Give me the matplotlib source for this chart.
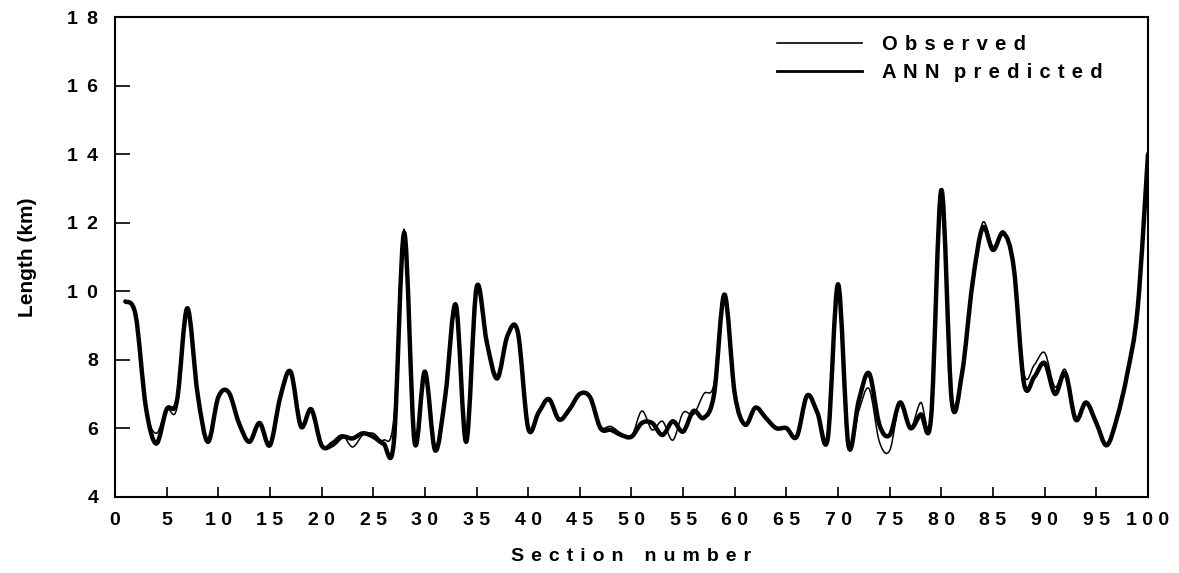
import matplotlib
matplotlib.use("Agg")
import matplotlib.pyplot as plt
from matplotlib.path import Path
from matplotlib.patches import PathPatch
from matplotlib.lines import Line2D
import numpy as np

# Section lengths (km) for sections 1..100
sections = list(range(1, 101))

observed = [
    9.70, 9.30, 6.60, 5.85, 6.55, 6.60, 9.50, 7.00, 5.60, 6.90,
    7.05, 6.15, 5.60, 6.15, 5.50, 6.90, 7.65, 6.05, 6.55, 5.50,
    5.60, 5.80, 5.45, 5.80, 5.85, 5.65, 6.30, 11.80, 5.60, 7.65,
    5.35, 7.00, 9.60, 5.60, 10.10, 8.60, 7.55, 8.70, 8.80, 6.00,
    6.45, 6.85, 6.25, 6.55, 7.00, 6.90, 6.05, 6.05, 5.85, 5.75,
    6.50, 5.95, 6.20, 5.65, 6.45, 6.40, 7.00, 7.30, 9.90, 7.00,
    6.10, 6.60, 6.30, 6.00, 6.00, 5.75, 6.95, 6.45, 5.70, 10.20,
    5.50, 6.50, 7.15, 5.60, 5.35, 6.75, 6.00, 6.75, 6.30, 12.95,
    6.80, 7.60, 10.20, 12.00, 11.30, 11.75, 10.80, 7.60, 7.85, 8.20,
    7.20, 7.70, 6.25, 6.75, 6.15, 5.50, 6.30, 7.60, 9.50, 14.00,
]

predicted = [
    9.70, 9.30, 6.60, 5.55, 6.55, 6.80, 9.50, 7.00, 5.60, 6.90,
    7.05, 6.15, 5.60, 6.15, 5.50, 6.90, 7.65, 6.05, 6.55, 5.50,
    5.50, 5.75, 5.70, 5.85, 5.75, 5.55, 5.60, 11.70, 5.60, 7.65,
    5.35, 7.00, 9.60, 5.60, 10.10, 8.50, 7.45, 8.70, 8.80, 6.00,
    6.45, 6.85, 6.25, 6.55, 7.00, 6.90, 6.00, 5.95, 5.80, 5.75,
    6.15, 6.15, 5.80, 6.20, 5.90, 6.50, 6.30, 7.00, 9.90, 7.00,
    6.10, 6.60, 6.30, 6.00, 6.00, 5.75, 6.95, 6.45, 5.70, 10.20,
    5.50, 6.80, 7.60, 6.10, 5.80, 6.75, 6.00, 6.40, 6.30, 12.95,
    6.80, 7.60, 10.20, 11.85, 11.20, 11.70, 10.70, 7.30, 7.50, 7.90,
    7.00, 7.60, 6.25, 6.75, 6.15, 5.50, 6.30, 7.60, 9.50, 14.00,
]

x_ticks = list(range(0, 101, 5))
y_ticks = list(range(4, 19, 2))
series_labels = ["Observed", "ANN predicted"]
x_title = "Section number"
y_title = "Length (km)"

plt.rcParams["font.family"] = ["Liberation Sans", "DejaVu Sans"]
plt.rcParams["font.weight"] = "bold"


def spaced(s, gap=" \u200a", word_gaps=3):
    """Letter-spaced text, as in the typeset axis labels."""
    return (gap * word_gaps).join(gap.join(w) for w in s.split(" "))


def smooth_path(xs, ys):
    """Catmull-Rom curve through the points, expressed as cubic Bezier segments."""
    p = np.column_stack([xs, ys]).astype(float)
    ext = np.vstack([p[0], p, p[-1]])
    verts = [tuple(p[0])]
    codes = [Path.MOVETO]
    for i in range(len(p) - 1):
        p0, p1, p2, p3 = ext[i], ext[i + 1], ext[i + 2], ext[i + 3]
        c1 = p1 + (p2 - p0) / 6.0
        c2 = p2 - (p3 - p1) / 6.0
        verts += [tuple(c1), tuple(c2), tuple(p2)]
        codes += [Path.CURVE4] * 3
    return Path(verts, codes)


fig = plt.figure(figsize=(11.79, 5.73), dpi=100)
ax = fig.add_axes([0.0975, 0.1332, 0.8762, 0.8371])

ink = "black"
ax.add_patch(PathPatch(smooth_path(sections, predicted), fill=False,
                       edgecolor=ink, linewidth=3.2, capstyle="round",
                       joinstyle="round", zorder=3))
ax.add_patch(PathPatch(smooth_path(sections, observed), fill=False,
                       edgecolor=ink, linewidth=1.1, zorder=4))

ax.set_xlim(0, 100)
ax.set_ylim(4, 18)
ax.set_xticks(x_ticks)
ax.set_xticklabels([spaced(str(v), " ") for v in x_ticks])
ax.set_yticks(y_ticks)
ax.set_yticklabels([spaced(str(v), " \u2009") for v in y_ticks])
ax.tick_params(axis="x", direction="in", length=7, width=1.2, pad=11,
               labelsize=14, top=False, colors=ink)
ax.tick_params(axis="y", direction="in", length=11, width=1.2, pad=12,
               labelsize=14, right=False, colors=ink)
for lbl in ax.get_xticklabels() + ax.get_yticklabels():
    lbl.set_fontweight("bold")
for sp in ax.spines.values():
    sp.set_linewidth(1.5)
    sp.set_color(ink)

ax.set_xlabel(spaced(x_title), fontsize=14, fontweight="bold", labelpad=14)
ax.set_ylabel(y_title, fontsize=15, fontweight="bold", labelpad=22)

handles = [Line2D([], [], color=ink, linewidth=1.2),
           Line2D([], [], color=ink, linewidth=2.0)]
ax.legend(handles, [spaced(s, " \u200a", 2) for s in series_labels],
          loc="upper left", bbox_to_anchor=(0.641, 0.963), frameon=False,
          handlelength=4.2, handletextpad=1.0, labelspacing=0.45,
          borderpad=0, borderaxespad=0, prop={"weight": "bold", "size": 14.5})

fig.savefig("out.png", dpi=100, facecolor="white")
